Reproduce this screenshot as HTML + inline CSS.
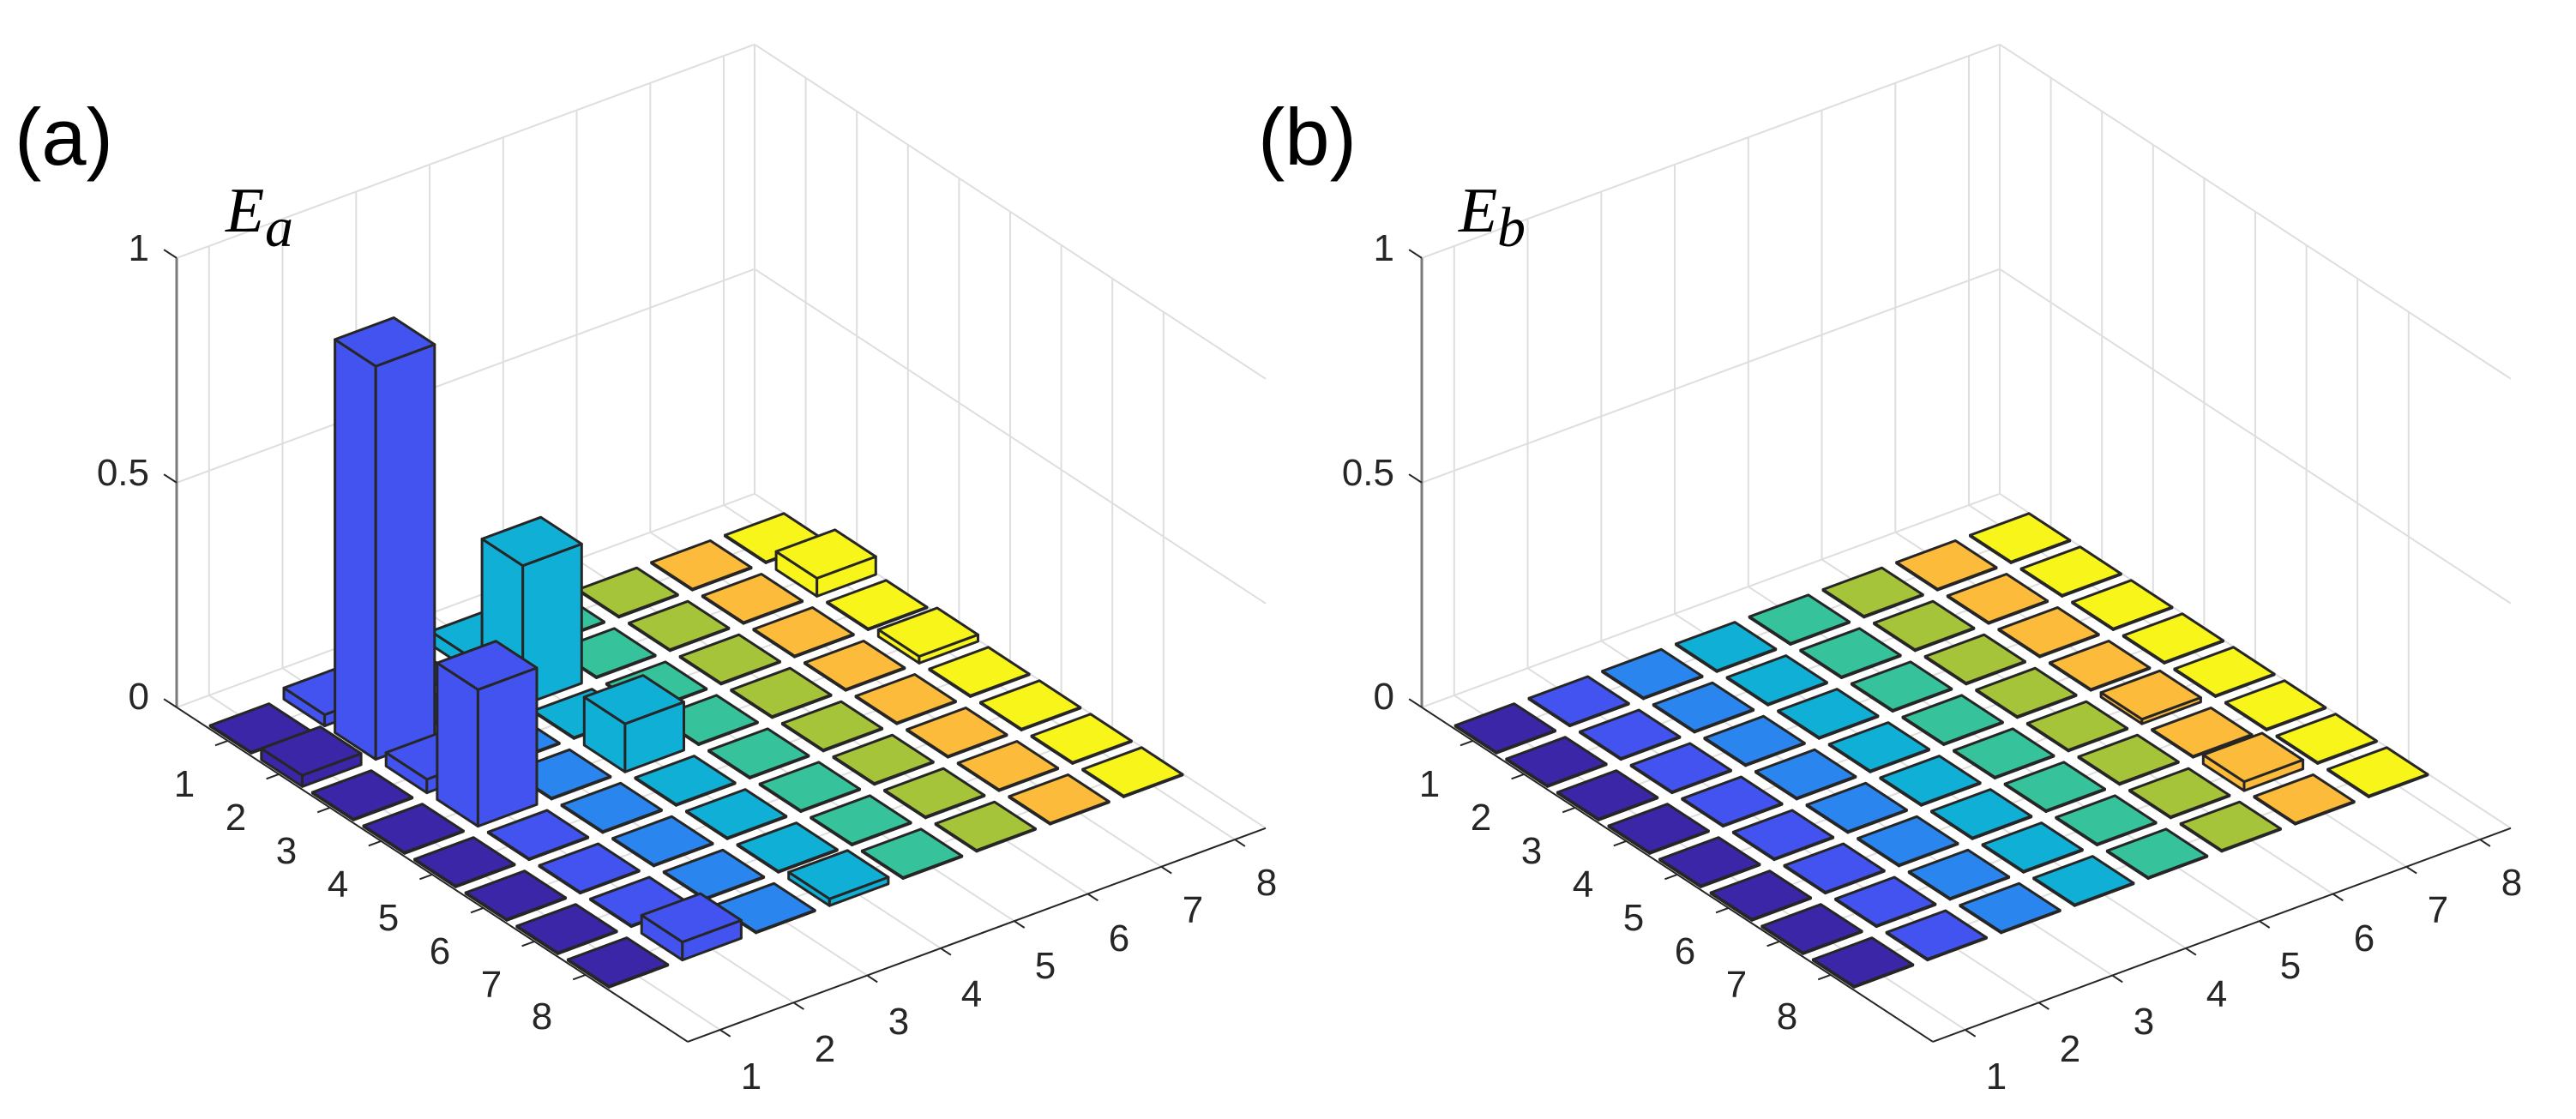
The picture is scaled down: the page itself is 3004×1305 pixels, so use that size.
<!DOCTYPE html>
<html><head><meta charset="utf-8">
<style>
html,body{margin:0;padding:0;background:#fff;}
svg{display:block;}
.t{font-family:"Liberation Sans",sans-serif;font-size:44px;fill:#262626;}
.p{font-family:"Liberation Sans",sans-serif;font-size:94px;fill:#000;}
.e{font-family:"Liberation Serif",serif;font-style:italic;fill:#000;}
</style></head>
<body>
<svg id="svg" width="3004" height="1305" viewBox="0 0 3004 1305" xmlns="http://www.w3.org/2000/svg">
<rect width="3004" height="1305" fill="#fff"/>
<g id="shapes"></g>
<!-- Panel a text -->
<text class="p" x="17" y="192">(a)</text>
<text class="e" x="263" y="270" font-size="74">E</text>
<text class="e" x="309" y="287" font-size="66">a</text>
<text class="t" x="174" y="304" text-anchor="end">1</text>
<text class="t" x="174" y="566" text-anchor="end">0.5</text>
<text class="t" x="174" y="827" text-anchor="end">0</text>
<g class="t" text-anchor="middle">
<text x="215" y="929">1</text><text x="275" y="968">2</text><text x="334" y="1007">3</text><text x="394" y="1046">4</text>
<text x="453" y="1085">5</text><text x="513" y="1124">6</text><text x="573" y="1163">7</text><text x="632" y="1200">8</text>
<text x="876" y="1270">1</text><text x="962" y="1238">2</text><text x="1048" y="1206">3</text><text x="1133" y="1174">4</text>
<text x="1219" y="1141">5</text><text x="1305" y="1109">6</text><text x="1391" y="1076">7</text><text x="1477" y="1044">8</text>
</g>
<!-- Panel b text -->
<text class="p" x="1467" y="192">(b)</text>
<text class="e" x="1701" y="270" font-size="74">E</text>
<text class="e" x="1746" y="287" font-size="66">b</text>
<text class="t" x="1626" y="304" text-anchor="end">1</text>
<text class="t" x="1626" y="566" text-anchor="end">0.5</text>
<text class="t" x="1626" y="827" text-anchor="end">0</text>
<g class="t" text-anchor="middle">
<text x="1667" y="929">1</text><text x="1727" y="968">2</text><text x="1786" y="1007">3</text><text x="1846" y="1046">4</text>
<text x="1905" y="1085">5</text><text x="1965" y="1124">6</text><text x="2025" y="1163">7</text><text x="2084" y="1200">8</text>
<text x="2328" y="1270">1</text><text x="2414" y="1238">2</text><text x="2500" y="1206">3</text><text x="2585" y="1174">4</text>
<text x="2671" y="1141">5</text><text x="2757" y="1109">6</text><text x="2843" y="1076">7</text><text x="2929" y="1044">8</text>
</g>
</svg>
<script>
(function(){
var cols=["#3b26a8","#4253ef","#2a85ee","#10b0d6","#36c29a","#a6c43a","#fdbb3c","#f7f51a"];
var I0=0,I1=10,J0=0.56,J1=8.42,W=0.4;
function panel(dx,H){
  function P(i,j,z){return [(158+59.6*i+85.75*j+dx).toFixed(1),(842.7+39*i-31.7*j-524*z).toFixed(1)];}
  function line(a,b,c,w){return '<line x1="'+a[0]+'" y1="'+a[1]+'" x2="'+b[0]+'" y2="'+b[1]+'" stroke="'+c+'" stroke-width="'+w+'"/>';}
  function poly(ps,f){return '<polygon points="'+ps.map(function(p){return p.join(',');}).join(' ')+'" fill="'+f+'" stroke="#262626" stroke-width="3" stroke-linejoin="round"/>';}
  var s='',g='#dedede',k;
  for(k=1;k<=8;k++){s+=line(P(I0,k,0),P(I0,k,1),g,2);}
  for(k=0;k<=8;k++){s+=line(P(k,J1,0),P(k,J1,1),g,2);}
  [0,0.5,1].forEach(function(z){s+=line(P(I0,J0,z),P(I0,J1,z),g,2);s+=line(P(I0,J1,z),P(I1,J1,z),g,2);});
  for(k=1;k<=8;k++){s+=line(P(k,J0,0),P(k,J1,0),g,2);s+=line(P(I0,k,0),P(I1,k,0),g,2);}
  s+=line(P(I0,J0,0),P(I0,J0,1),'#7a7a7a',3);
  s+=line(P(I0,J0,0),P(I1,J0,0),'#262626',2);
  s+=line(P(I1,J0,0),P(I1,J1,0),'#262626',2);
  [0,0.5,1].forEach(function(z){s+=line(P(I0,J0,z),P(I0-0.25,J0,z),'#262626',2);});
  for(k=1;k<=8;k++){s+=line(P(k,J0,0),P(k,J0-0.17,0),'#262626',2);s+=line(P(I1,k,0),P(I1+0.2,k,0),'#262626',2);}
  var cells=[];
  for(var i=1;i<=8;i++)for(var j=1;j<=8;j++)cells.push([i,j]);
  cells.sort(function(a,b){return (a[0]-a[1])-(b[0]-b[1]);});
  cells.forEach(function(c){
    var i=c[0],j=c[1],h=H[i+','+j]||0.002,f=cols[j-1];
    s+=poly([P(i-W,j-W,0),P(i+W,j-W,0),P(i+W,j-W,h),P(i-W,j-W,h)],f);
    s+=poly([P(i+W,j-W,0),P(i+W,j+W,0),P(i+W,j+W,h),P(i+W,j-W,h)],f);
    s+=poly([P(i-W,j-W,h),P(i+W,j-W,h),P(i+W,j+W,h),P(i-W,j+W,h)],f);
  });
  return s;
}
var Ha={'2,2':0.875,'2,4':0.31,'4,2':0.304,'4,4':0.107,'2,8':0.04,'4,8':0.015,'8,4':0.015,'8,2':0.04,'2,1':0.025,'1,2':0.025,'3,2':0.03,'1,4':0.03};
var Hb={'7,7':0.02,'5,7':0.01};
document.getElementById('shapes').innerHTML=panel(0,Ha)+panel(1452,Hb);
})();
</script>
</body></html>
